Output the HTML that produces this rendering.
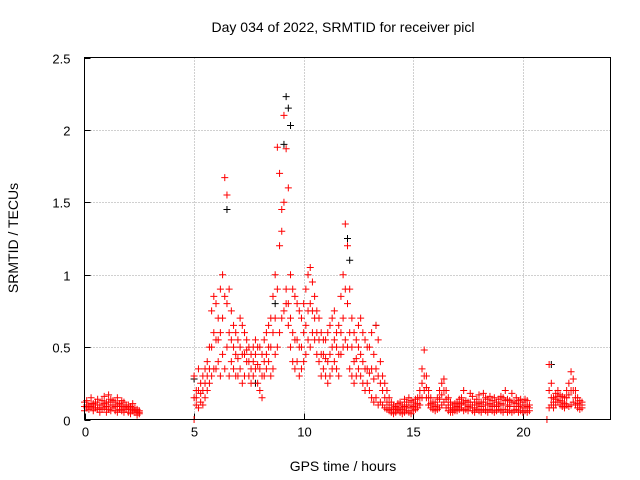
<!DOCTYPE html>
<html><head><meta charset="utf-8">
<style>
body{margin:0;background:#fff;}
svg{display:block;font-family:"Liberation Sans",sans-serif;}
</style></head>
<body>
<svg id="chart" width="640" height="480" viewBox="0 0 640 480" xmlns="http://www.w3.org/2000/svg">
<text x="343" y="32" font-size="14" text-anchor="middle">Day 034 of 2022, SRMTID for receiver picl</text>
<text x="343" y="471" font-size="14" text-anchor="middle">GPS time / hours</text>
<text x="18" y="238" font-size="14" text-anchor="middle" transform="rotate(-90 18 238)">SRMTID / TECUs</text>
<g id="grid"></g>
<g id="axes"></g>
<g id="marks"></g>
<rect x="84.5" y="57.5" width="526" height="362" fill="none" stroke="#000" stroke-width="1"/>
</svg>
<script>
const xTicks=[0,5,10,15,20];
const yTicks=[0,0.5,1,1.5,2,2.5];
const yTickLabels=["0","0.5","1","1.5","2","2.5"];
const times=[];for(let i=0;i<230;i++)times.push(i/10);
const redLow=[.06,.08,.07,.09,.06,.08,.07,.05,.07,.08,
.05,.07,.06,.08,.06,.05,.07,.06,.05,.07,
.05,.04,.06,.05,.03,.04,null,null,null,null,
null,null,null,null,null,null,null,null,null,null,
null,null,null,null,null,null,null,null,null,null,
0,.1,.08,.12,.1,.15,.2,.25,.3,.35,
.35,.4,.3,.45,.35,.5,.3,.4,.35,.3,
.3,.35,.25,.3,.4,.3,.25,.3,.35,.25,
.2,.15,.3,.35,.4,.3,.35,.45,.5,.6,
.7,.75,.8,.65,.5,.4,.35,.4,.3,.35,
.4,.45,.55,.5,.6,.55,.45,.4,.3,.35,
.3,.25,.3,.35,.4,.35,.3,.45,.5,.55,
.5,.35,.3,.25,.3,.35,.3,.25,.2,.25,
.2,.15,.12,.15,.1,.12,.1,.08,.07,.06,
.05,.04,.05,.06,.05,.04,.05,.06,.05,.04,
.06,.07,.08,.1,.15,.2,.15,.1,.08,.07,
.06,.07,.08,.1,.12,.08,.06,.05,.05,.06,
.06,.07,.08,.06,.07,.06,.08,.06,.05,.07,
.06,.05,.07,.06,.05,.07,.06,.05,.06,.07,
.06,.05,.07,.05,.06,.05,.06,.07,.05,.06,
.05,.06,.05,.06,null,null,null,null,null,null,
null,0,.08,.1,.08,.1,.12,.1,.09,.08,
.1,.09,.1,.12,.1,.08,.07,.08,null,null];
const redHigh=[.12,.13,.1,.15,.11,.12,.14,.1,.13,.16,
.12,.17,.14,.13,.12,.15,.11,.13,.12,.1,
.1,.09,.11,.08,.07,.06,null,null,null,null,
null,null,null,null,null,null,null,null,null,null,
null,null,null,null,null,null,null,null,null,null,
.3,.2,.35,.25,.3,.35,.4,.5,.75,.85,
.8,.7,.9,1.0,1.67,1.55,.9,.75,.65,.6,
.55,.7,.65,.6,.55,.5,.45,.5,.55,.5,
.5,.45,.55,.6,.65,.7,.85,1.0,1.88,1.7,
1.45,2.1,1.87,1.6,1.0,.9,.85,.8,.75,.7,
.8,.9,1.0,1.05,.95,.85,.75,.7,.6,.55,
.55,.6,.65,.7,.75,.6,.65,.85,1.0,1.35,
1.2,.9,.7,.6,.55,.65,.7,.6,.55,.5,
.5,.6,.45,.65,.55,.4,.3,.25,.2,.15,
.12,.1,.09,.11,.12,.1,.14,.12,.15,.13,
.12,.14,.15,.2,.35,.48,.3,.2,.15,.12,
.12,.15,.2,.25,.28,.2,.15,.12,.1,.11,
.12,.14,.15,.2,.13,.12,.18,.16,.12,.14,
.17,.12,.18,.15,.14,.16,.13,.15,.12,.14,
.16,.15,.2,.14,.13,.18,.12,.15,.13,.14,
.12,.14,.13,.1,null,null,null,null,null,null,
null,null,.38,.25,.15,.18,.2,.17,.16,.15,
.2,.25,.33,.28,.2,.15,.13,.12,null,null];
const redMid=[.09,.1,.09,.11,.08,.1,.1,.08,.1,.11,
.09,.12,.1,.1,.09,.1,.09,.1,.08,.09,
.08,.07,.08,.06,.05,.05,null,null,null,null,
null,null,null,null,null,null,null,null,null,null,
null,null,null,null,null,null,null,null,null,null,
.15,.15,.2,.18,.2,.25,.3,.35,.5,.6,
.55,.55,.6,.7,.85,.8,.6,.55,.5,.45,
.42,.5,.45,.45,.48,.4,.35,.4,.45,.38,
.35,.3,.4,.45,.5,.5,.6,.7,.9,1.2,
1.3,1.5,.9,.8,.7,.6,.55,.55,.5,.5,
.6,.65,.75,.8,.75,.7,.6,.55,.45,.45,
.42,.4,.45,.5,.55,.5,.45,.6,.7,.9,
.8,.6,.5,.4,.42,.5,.45,.4,.35,.35,
.32,.35,.28,.35,.3,.25,.2,.15,.12,.1,
.08,.07,.07,.08,.08,.07,.09,.08,.1,.08,
.09,.1,.11,.15,.25,.3,.22,.15,.11,.1,
.09,.1,.14,.17,.2,.14,.1,.08,.07,.08,
.09,.1,.11,.12,.1,.09,.12,.1,.08,.1,
.11,.09,.12,.1,.1,.11,.09,.1,.09,.1,
.11,.1,.13,.1,.09,.12,.09,.11,.09,.1,
.08,.1,.09,.08,null,null,null,null,null,null,
null,null,.2,.15,.12,.14,.16,.13,.12,.11,
.15,.17,.2,.2,.15,.11,.1,.1,null,null];
const blackTimes=[5.0,6.5,7.8,8.7,9.1,9.2,9.3,9.4,12.0,12.1,13.3,21.3];
const blackValues=[0.28,1.45,0.25,0.8,1.9,2.23,2.15,2.03,1.25,1.1,0.65,0.38];

const X0=84.5,X1=610.5,Y0=419.5,Y1=57.5;
const xs=v=>X0+(v/24)*(X1-X0);
const ys=v=>Y0-(v/2.5)*(Y0-Y1);
const NS="http://www.w3.org/2000/svg";
const grid=document.getElementById('grid'),axes=document.getElementById('axes'),marks=document.getElementById('marks');
function mk(tag,attrs,parent){const e=document.createElementNS(NS,tag);for(const k in attrs)e.setAttribute(k,attrs[k]);parent.appendChild(e);return e;}
xTicks.forEach(t=>{
  const x=Math.round(xs(t))+0.5;
  if(t>0){const g=mk('line',{x1:x,x2:x,y1:Y1,y2:Y0,stroke:'#a0a0a0','stroke-dasharray':'1,2'},grid);
  
  }
  const tk=mk('line',{x1:x,x2:x,y1:Y0,y2:Y0-6,stroke:'#000'},axes);
  
  
  const lb=mk('text',{x:x,y:Y0+17,'font-size':13,'text-anchor':'middle'},axes);lb.textContent=String(t);
  
  
});
yTicks.forEach((t,i)=>{
  const y=Math.round(ys(t))+0.5;
  if(t>0&&t<2.5){const g=mk('line',{x1:X0,x2:X1,y1:y,y2:y,stroke:'#a0a0a0','stroke-dasharray':'1,2'},grid);
  
  }
  const tk=mk('line',{x1:X0,x2:X0+6,y1:y,y2:y,stroke:'#000'},axes);
  
  
  const lb=mk('text',{x:X0-14,y:y+5,'font-size':13,'text-anchor':'end'},axes);lb.textContent=yTickLabels[i];
  
  
});
function plus(t,v,color,name){
  const x=xs(t),y=ys(v);
  const p=mk('path',{d:`M${x-3.5},${y}h7M${x},${y-3.5}v7`,stroke:color,'stroke-width':1,fill:'none'},marks);
  
  
}
blackTimes.forEach((t,i)=>plus(t,blackValues[i],'#000','black-point'));
[redLow,redMid,redHigh].forEach(arr=>times.forEach((t,i)=>{if(arr[i]!==null)plus(t,arr[i],'#ff0000','red-point');}));
</script>
</body></html>
